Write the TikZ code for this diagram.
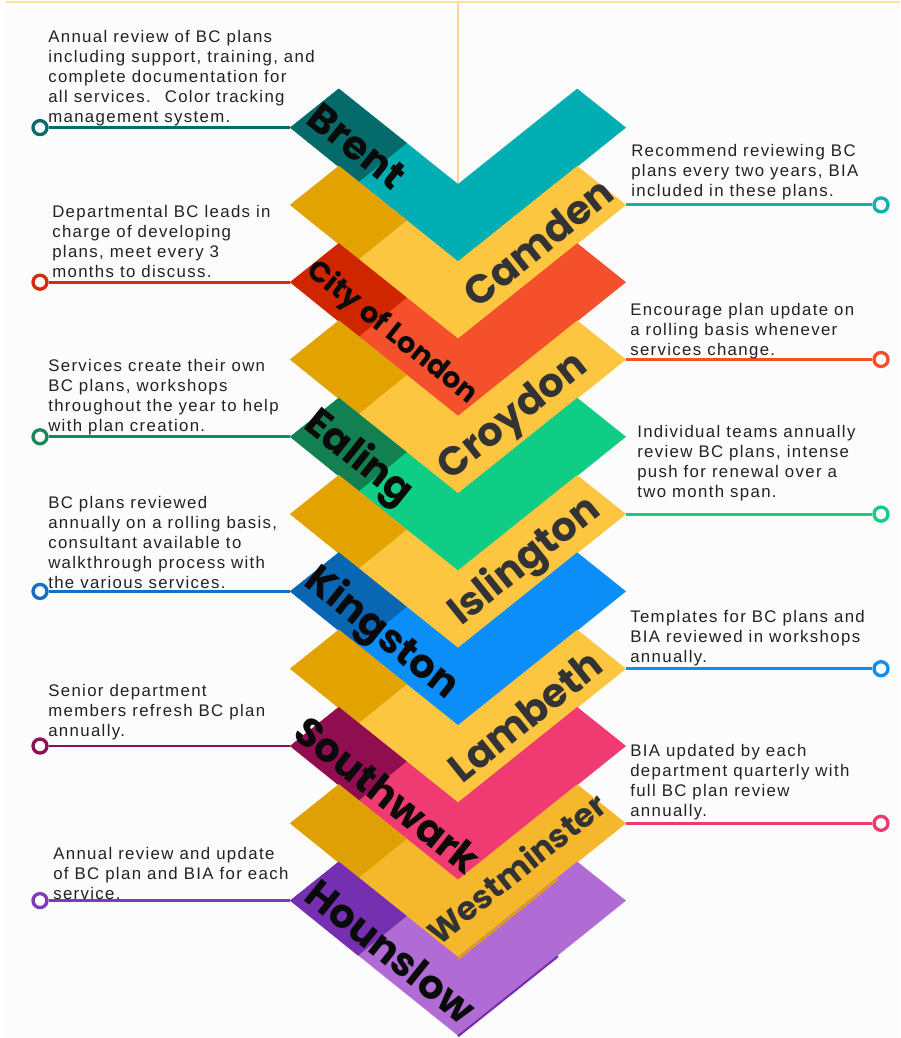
\documentclass[tikz,border=0pt]{standalone}
\usepackage{fontspec}
\setmainfont{Liberation Sans}[LetterSpace=8]
\newfontfamily\labfont{Poppins}
\definecolor{bgc}{HTML}{FCFCFC}
\definecolor{topl}{HTML}{FFE29A}
\definecolor{vline}{HTML}{FFD88E}
\definecolor{txt}{HTML}{222222}
\definecolor{labk}{HTML}{0A0A0A}
\definecolor{labg}{HTML}{333333}
\definecolor{cTeal}{HTML}{00AEB3}\definecolor{dTeal}{HTML}{056A6A}
\definecolor{cYel}{HTML}{FDC641}\definecolor{dYel}{HTML}{E2A200}
\definecolor{cYelB}{HTML}{F5B82C}\definecolor{dYelB}{HTML}{DFA005}
\definecolor{cRed}{HTML}{F4502B}\definecolor{dRed}{HTML}{CF2600}
\definecolor{cGrn}{HTML}{0FCD85}\definecolor{dGrn}{HTML}{138052}
\definecolor{cBlu}{HTML}{0B8EF7}\definecolor{dBlu}{HTML}{0966B2}
\definecolor{cPnk}{HTML}{EF3B72}\definecolor{dPnk}{HTML}{900D50}
\definecolor{cPur}{HTML}{B06BD4}\definecolor{dPur}{HTML}{7430B0}
\definecolor{lnA}{HTML}{0B6B6B}\definecolor{lnB}{HTML}{D52B0B}
\definecolor{lnC}{HTML}{1A8858}\definecolor{lnD}{HTML}{1470C3}
\definecolor{lnE}{HTML}{8E1053}\definecolor{lnF}{HTML}{7E3CB6}
\definecolor{rnA}{HTML}{14AFB5}\definecolor{rnB}{HTML}{F4502A}
\definecolor{rnC}{HTML}{13CC85}\definecolor{rnD}{HTML}{0F8EF2}
\definecolor{rnE}{HTML}{EE3B6E}
\newcommand{\mylines}[1]{\begin{tabular}[b]{@{}l@{}}#1\end{tabular}}
\begin{document}
\begin{tikzpicture}[x=0.75pt,y=-0.75pt,
  desc/.style={anchor=base west, inner sep=0pt, text=txt, font=\fontsize{12.6}{15}\selectfont},
  lablft/.style={anchor=center, inner sep=0pt, text=labk, rotate=-38.66, font=\labfont\bfseries\fontsize{30}{30}\selectfont},
  labrgt/.style={anchor=center, inner sep=0pt, text=labg, rotate=38.66, font=\labfont\bfseries\fontsize{30}{30}\selectfont},
  ring/.style={circle, line width=2.5pt, fill=white, minimum size=10.5pt, inner sep=0pt},
  conn/.style={line width=2.2pt}]
\useasboundingbox (0,0) rectangle (900,1038);
\fill[white] (0,0) rectangle (900,1038);
\fill[bgc] (6,3) rectangle (900,1038);
\draw[topl, line width=1.6pt] (6,2) -- (900,2);
\draw[vline, line width=1.5pt] (458,3) -- (458,186);
% chevrons
\foreach \k/\cm/\cd in {0/cTeal/dTeal,1/cYel/dYel,2/cRed/dRed,3/cYel/dYel,4/cGrn/dGrn,5/cYel/dYel,6/cBlu/dBlu,7/cYel/dYel,8/cPnk/dPnk,9/cYelB/dYelB,10/cPur/dPur}{
  \pgfmathsetmacro\d{77.3*\k}
  \fill[\cm] (290,127.6+\d) -- (338.75,88.6+\d) -- (458,184+\d) -- (577.25,88.6+\d) -- (626,127.6+\d) -- (458,262.6+\d) -- cycle;
  \fill[\cd] (290,127.6+\d) -- (338.75,88.6+\d) -- (406.75,143+\d) -- (358,182.6+\d) -- cycle;
}
\draw[dYelB, line width=1.6pt] (458,958.9) -- (558,878.9);
\draw[dPur, line width=1.6pt] (458,1036.2) -- (558,956.2);
% tips
\foreach \k in {0,2,4,6,8,10}{\coordinate (tip\k) at (290,127.6+77.3*\k);}
\foreach \k in {1,3,5,7,9}{\coordinate (tip\k) at (626,127.6+77.3*\k);}
% connectors
\foreach \k/\c in {0/lnA,2/lnB,4/lnC,6/lnD,8/lnE,10/lnF}{
  \node[ring, draw=\c] (ring\k) at (40,127.6+77.3*\k) {};
  \draw[conn, \c] (ring\k) -- (tip\k);
}
\foreach \k/\c in {1/rnA,3/rnB,5/rnC,7/rnD,9/rnE}{
  \node[ring, draw=\c] (ring\k) at (881,127.6+77.3*\k) {};
  \draw[conn, \c] (tip\k) -- (ring\k);
}
% labels
\node[lablft] (brent) at (357,146) {Brent};
\node[lablft, font=\labfont\bfseries\fontsize{21.5}{21.5}\selectfont] (city) at (392,333) {City of London};
\node[lablft] (ealing) at (358,459) {Ealing};
\node[lablft] (kingston) at (381,634) {Kingston};
\node[lablft] (southwark) at (388,795) {Southwark};
\node[lablft] (hounslow) at (391,951) {Hounslow};
\node[labrgt] (camden) at (538,242) {Camden};
\node[labrgt] (croydon) at (514,418) {Croydon};
\node[labrgt] (islington) at (525,562) {Islington};
\node[labrgt] (lambeth) at (525,716) {Lambeth};
\node[labrgt, font=\labfont\bfseries\fontsize{24.5}{24.5}\selectfont] (westminster) at (516,868) {Westminster};
% descriptions
\node[desc] (dbrent) at (48,123) {\mylines{Annual review of BC plans\\including support, training, and\\complete documentation for\\all services.~ Color tracking\\management system.}};
\node[desc] (dcamden) at (631,196.7) {\mylines{Recommend reviewing BC\\plans every two years, BIA\\included in these plans.}};
\node[desc] (dcity) at (52,277) {\mylines{Departmental BC leads in\\charge of developing\\plans, meet every 3\\months to discuss.}};
\node[desc] (dcroydon) at (630,355) {\mylines{Encourage plan update on\\a rolling basis whenever\\services change.}};
\node[desc] (dealing) at (48,431.5) {\mylines{Services create their own\\BC plans, workshops\\throughout the year to help\\with plan creation.}};
\node[desc] (dislington) at (637,497) {\mylines{Individual teams annually\\review BC plans, intense\\push for renewal over a\\two month span.}};
\node[desc] (dkingston) at (48,588) {\mylines{BC plans reviewed\\annually on a rolling basis,\\consultant available to\\walkthrough process with\\the various services.}};
\node[desc] (dlambeth) at (630,662) {\mylines{Templates for BC plans and\\BIA reviewed in workshops\\annually.}};
\node[desc] (dsouthwark) at (48,736) {\mylines{Senior department\\members refresh BC plan\\annually.}};
\node[desc] (dwestminster) at (630,816) {\mylines{BIA updated by each\\department quarterly with\\full BC plan review\\annually.}};
\node[desc] (dhounslow) at (53,899) {\mylines{Annual review and update\\of BC plan and BIA for each\\service.}};
\end{tikzpicture}
\end{document}
